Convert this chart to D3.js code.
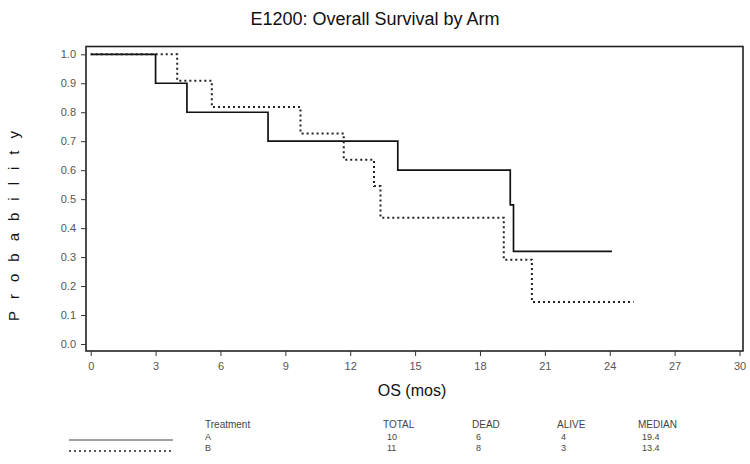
<!DOCTYPE html>
<html><head><meta charset="utf-8">
<script src="https://cdn.jsdelivr.net/npm/d3@7"></script>
<style>body{margin:0;background:#fff}svg{display:block}</style>
</head><body>
<script>
const timesA = [0, 3.0, 4.45, 8.2, 14.2, 19.4, 19.55, 24.1];
const survA  = [1.0, 0.9, 0.8, 0.7, 0.6, 0.48, 0.32, 0.32];
const timesB = [0, 4.0, 5.6, 9.7, 11.7, 13.1, 13.4, 19.1, 20.4, 25.1];
const survB  = [1.0, 0.909, 0.818, 0.727, 0.636, 0.545, 0.436, 0.291, 0.145, 0.145];
const xTicks = [0, 3, 6, 9, 12, 15, 18, 21, 24, 27, 30];
const yTicks = [0, 0.1, 0.2, 0.3, 0.4, 0.5, 0.6, 0.7, 0.8, 0.9, 1.0];
const tableHeader = ["Treatment", "TOTAL", "DEAD", "ALIVE", "MEDIAN"];
const arms   = ["A", "B"];
const totals = [10, 11];
const dead   = [6, 8];
const alive  = [4, 3];
const medians= ["19.4", "13.4"];

const W = 750, H = 464;
const svg = d3.select("body").append("svg").attr("width", W).attr("height", H)
  .style("font-family", "'Liberation Sans', Arial, sans-serif");

const x = d3.scaleLinear().domain([0, 30]).range([90.7, 739.5]);
const y = d3.scaleLinear().domain([0, 1]).range([344, 54.3]);

// frame
svg.append("rect").attr("x", 86).attr("y", 46.5).attr("width", 657).attr("height", 304.5)
  .attr("fill", "none").attr("stroke", "#222").attr("stroke-width", 1.6);

const gy = svg.append("g").attr("transform", "translate(86,0)")
  .call(d3.axisLeft(y).tickValues(yTicks).tickFormat(d3.format(".1f")).tickSize(5).tickPadding(5));
gy.select(".domain").remove();
gy.selectAll("text").attr("fill", "#555").style("font-size", "11px");
gy.selectAll("line").attr("stroke", "#333");

const gx = svg.append("g").attr("transform", "translate(0,351)")
  .call(d3.axisBottom(x).tickValues(xTicks).tickFormat(d3.format("d")).tickSize(5).tickPadding(6));
gx.select(".domain").remove();
gx.selectAll("text").attr("fill", "#555").style("font-size", "11px");
gx.selectAll("line").attr("stroke", "#333");

const line = d3.line().x(d => x(d[0])).y(d => y(d[1])).curve(d3.curveStepAfter);
svg.append("path").datum(timesA.map((t, i) => [t, survA[i]]))
  .attr("d", line).attr("fill", "none").attr("stroke", "#111").attr("stroke-width", 1.7);
svg.append("path").datum(timesB.map((t, i) => [t, survB[i]]))
  .attr("d", line).attr("fill", "none").attr("stroke", "#222").attr("stroke-width", 2)
  .attr("stroke-dasharray", "2,3");

// titles
svg.append("text").attr("x", 375).attr("y", 25).attr("text-anchor", "middle")
  .style("font-size", "18px").attr("fill", "#111").text("E1200: Overall Survival by Arm");
svg.append("text").attr("x", 412).attr("y", 396).attr("text-anchor", "middle")
  .style("font-size", "16px").attr("fill", "#111").text("OS (mos)");
svg.append("text").attr("transform", "translate(19,220) rotate(-90)").attr("text-anchor", "middle")
  .style("font-size", "15px").attr("fill", "#111").style("letter-spacing", "12px")
  .text("Probability");

// table
const colX = [205, 383, 472, 557, 638];
const tg = svg.append("g").attr("fill", "#444");
tableHeader.forEach((h, i) => tg.append("text").attr("x", colX[i]).attr("y", 428)
  .style("font-size", "10px").text(h));
const rowY = [440, 450.5];
arms.forEach((a, r) => {
  const vals = [a, totals[r], dead[r], alive[r], medians[r]];
  vals.forEach((v, i) => tg.append("text").attr("x", colX[i] + (i === 0 ? 0 : 4)).attr("y", rowY[r])
    .style("font-size", "9px").text(v));
});
svg.append("line").attr("x1", 69).attr("x2", 173).attr("y1", 440).attr("y2", 440)
  .attr("stroke", "#444").attr("stroke-width", 1);
svg.append("line").attr("x1", 69).attr("x2", 173).attr("y1", 451).attr("y2", 451)
  .attr("stroke", "#222").attr("stroke-width", 1.5).attr("stroke-dasharray", "2,3");
</script>
</body></html>
